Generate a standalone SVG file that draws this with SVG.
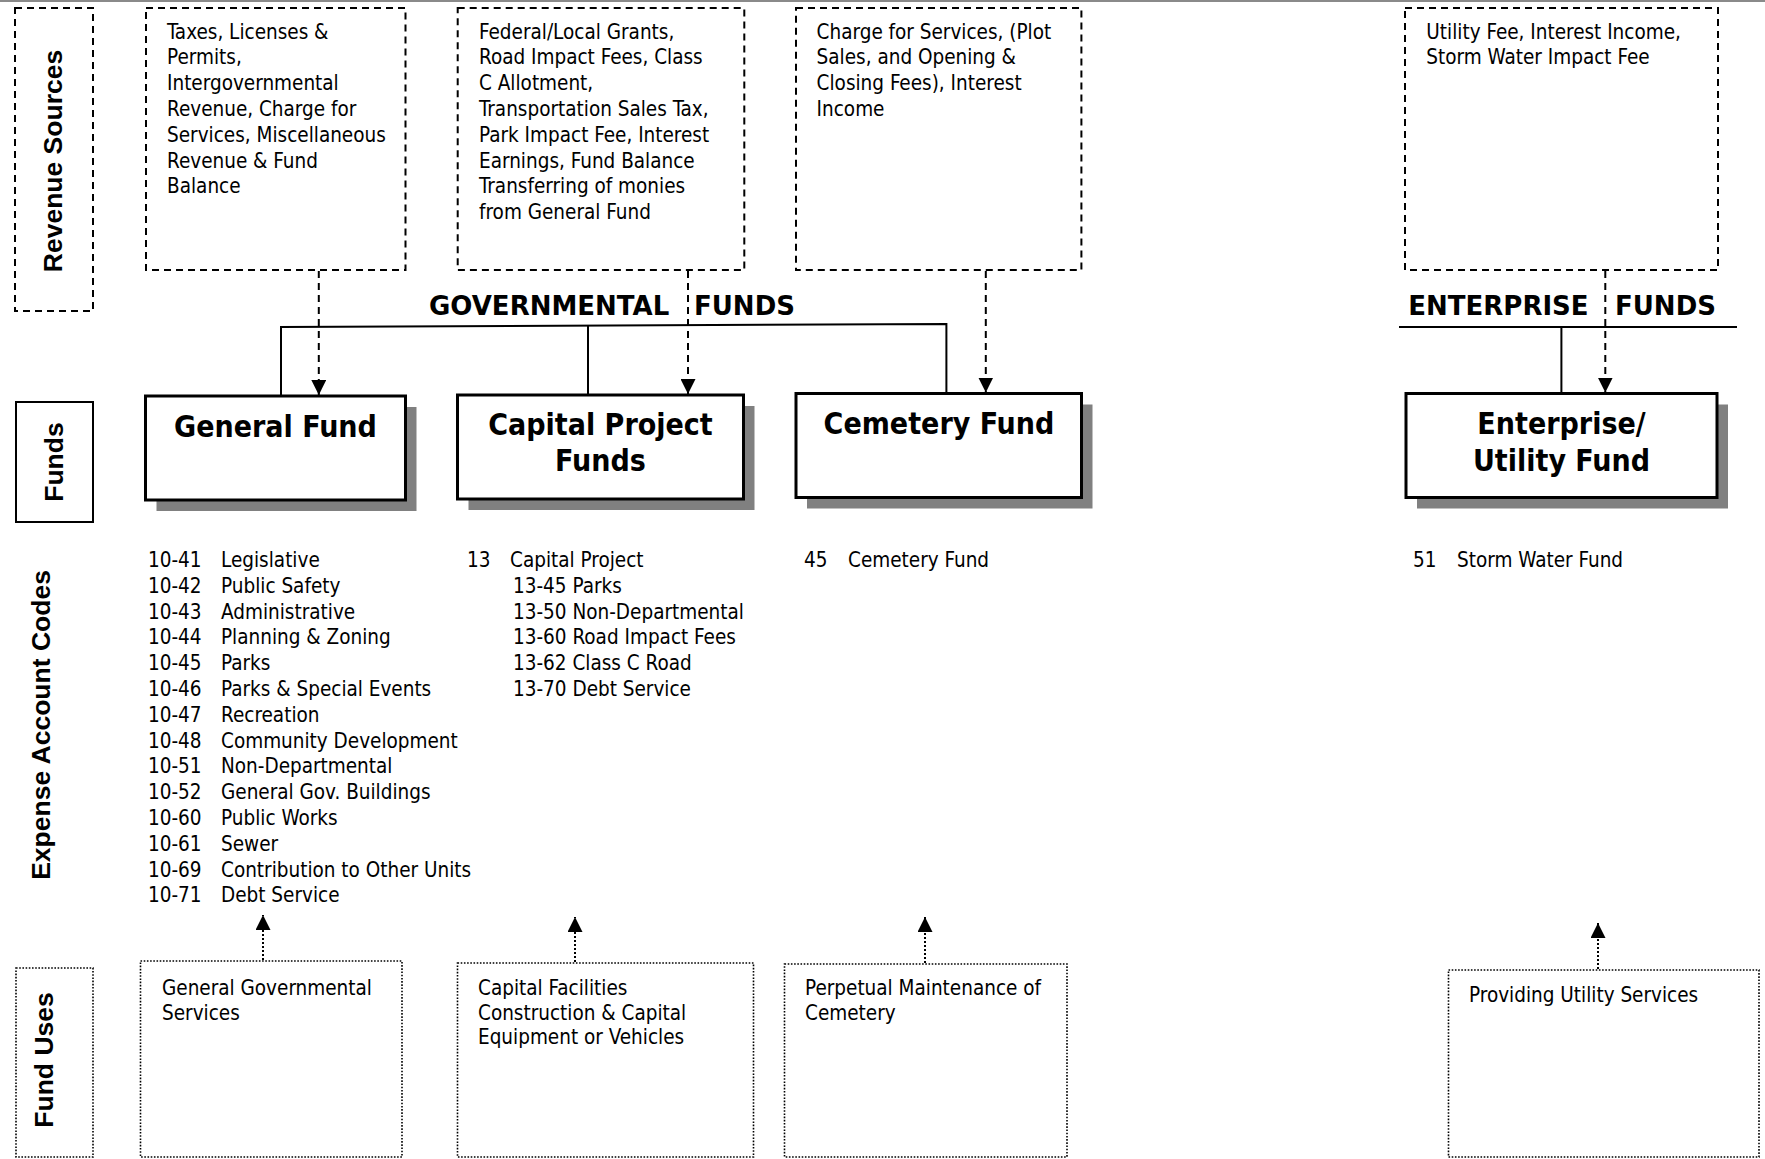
<svg xmlns="http://www.w3.org/2000/svg" width="1765" height="1159" viewBox="0 0 1765 1159">
<style>
.bg{fill:#fff}
.t{font-family:"DejaVu Sans Condensed","DejaVu Sans",sans-serif;font-size:20.5px;fill:#000}
.ft{font-family:"DejaVu Sans Condensed","DejaVu Sans",sans-serif;font-size:30px;font-weight:bold;fill:#000;text-anchor:middle}
.hd{font-family:"DejaVu Sans",sans-serif;font-size:26px;font-weight:bold;fill:#000}
.lab{font-family:"Liberation Sans",Arial,sans-serif;font-size:26.5px;font-weight:bold;fill:#000;text-anchor:middle}
.dash{fill:none;stroke:#000;stroke-width:2;stroke-dasharray:7 5}
.dot{fill:none;stroke:#000;stroke-width:1.6;stroke-dasharray:1.6 1.6}
.solid{fill:none;stroke:#000;stroke-width:2}
.box{fill:#fff;stroke:#000;stroke-width:3}
.shadow{fill:#808080}
.ln{fill:none;stroke:#000;stroke-width:2}
.dln{fill:none;stroke:#000;stroke-width:2;stroke-dasharray:7 5}
.dotln{fill:none;stroke:#000;stroke-width:2;stroke-dasharray:2 2}
</style>
<defs>
<marker id="ah" viewBox="0 0 10 10" refX="10" refY="5" markerWidth="7.5" markerHeight="7.5" markerUnits="strokeWidth" orient="auto">
<path d="M0,0 L10,5 L0,10 z" fill="#000"/>
</marker>
</defs>
<rect class="bg" x="0" y="0" width="1765" height="1159"/>
<line x1="0" y1="1" x2="1765" y2="1" stroke="#8a8a8a" stroke-width="2"/>

<!-- Row labels -->
<g id="label-revenue-sources">
<rect class="dash" x="15" y="8" width="78" height="303"/>
<text class="lab" transform="translate(62,161) rotate(-90)">Revenue Sources</text>
</g>
<g id="label-funds">
<rect class="solid" x="16" y="402" width="77" height="120"/>
<text class="lab" transform="translate(63,462) rotate(-90)">Funds</text>
</g>
<g id="label-expense-account-codes">
<text class="lab" transform="translate(50,725) rotate(-90)">Expense Account Codes</text>
</g>
<g id="label-fund-uses">
<rect class="dot" x="16" y="968" width="77" height="189"/>
<text class="lab" transform="translate(53,1060) rotate(-90)">Fund Uses</text>
</g>

<!-- Revenue sources -->
<g id="rev-general">
<rect class="dash" x="146" y="8" width="259.5" height="262"/>
<text class="t"><tspan x="167" y="38.5">Taxes, Licenses &amp;</tspan><tspan x="167" y="64.3">Permits,</tspan><tspan x="167" y="90.1">Intergovernmental</tspan><tspan x="167" y="115.9">Revenue, Charge for</tspan><tspan x="167" y="141.7">Services, Miscellaneous</tspan><tspan x="167" y="167.5">Revenue &amp; Fund</tspan><tspan x="167" y="193.3">Balance</tspan></text>
</g>
<g id="rev-capital">
<rect class="dash" x="457.7" y="8" width="286.6" height="262"/>
<text class="t"><tspan x="479" y="38.5">Federal/Local Grants,</tspan><tspan x="479" y="64.3">Road Impact Fees, Class</tspan><tspan x="479" y="90.1">C Allotment,</tspan><tspan x="479" y="115.9">Transportation Sales Tax,</tspan><tspan x="479" y="141.7">Park Impact Fee, Interest</tspan><tspan x="479" y="167.5">Earnings, Fund Balance</tspan><tspan x="479" y="193.3">Transferring of monies</tspan><tspan x="479" y="219.1">from General Fund</tspan></text>
</g>
<g id="rev-cemetery">
<rect class="dash" x="796" y="8" width="285.4" height="262"/>
<text class="t"><tspan x="816.6" y="38.5">Charge for Services, (Plot</tspan><tspan x="816.6" y="64.3">Sales, and Opening &amp;</tspan><tspan x="816.6" y="90.1">Closing Fees), Interest</tspan><tspan x="816.6" y="115.9">Income</tspan></text>
</g>
<g id="rev-enterprise">
<rect class="dash" x="1405" y="8" width="313" height="262"/>
<text class="t"><tspan x="1426.3" y="38.5">Utility Fee, Interest Income,</tspan><tspan x="1426.3" y="64.3">Storm Water Impact Fee</tspan></text>
</g>

<!-- Group headers -->
<g id="header-governmental">
<text class="hd" x="429" y="315">GOVERNMENTAL</text>
<text class="hd" x="694" y="315">FUNDS</text>
</g>
<g id="header-enterprise">
<text class="hd" x="1408.3" y="315">ENTERPRISE</text>
<text class="hd" x="1615" y="315">FUNDS</text>
</g>

<!-- Fund boxes -->
<g id="fund-general">
<rect class="shadow" x="156.5" y="407" width="260" height="104"/>
<rect class="box" x="145.5" y="396" width="260" height="104"/>
<text class="ft" x="275.5" y="437">General Fund</text>
</g>
<g id="fund-capital">
<rect class="shadow" x="468.5" y="406" width="286" height="104"/>
<rect class="box" x="457.5" y="395" width="286" height="104"/>
<text class="ft" x="600.5" y="434.5">Capital Project</text>
<text class="ft" x="600.5" y="471">Funds</text>
</g>
<g id="fund-cemetery">
<rect class="shadow" x="807" y="404.5" width="285.5" height="104"/>
<rect class="box" x="796" y="393.5" width="285.5" height="104"/>
<text class="ft" x="939" y="433.5">Cemetery Fund</text>
</g>
<g id="fund-enterprise">
<rect class="shadow" x="1417" y="404.5" width="311" height="104"/>
<rect class="box" x="1406" y="393.5" width="311" height="104"/>
<text class="ft" x="1561.5" y="433.5">Enterprise/</text>
<text class="ft" x="1561.5" y="471">Utility Fund</text>
</g>

<!-- Expense account codes -->
<g id="codes-general">
<text class="t" x="148" y="567">10-41</text><text class="t" x="221" y="567">Legislative</text>
<text class="t" x="148" y="592.8">10-42</text><text class="t" x="221" y="592.8">Public Safety</text>
<text class="t" x="148" y="618.6">10-43</text><text class="t" x="221" y="618.6">Administrative</text>
<text class="t" x="148" y="644.4">10-44</text><text class="t" x="221" y="644.4">Planning &amp; Zoning</text>
<text class="t" x="148" y="670.2">10-45</text><text class="t" x="221" y="670.2">Parks</text>
<text class="t" x="148" y="696">10-46</text><text class="t" x="221" y="696">Parks &amp; Special Events</text>
<text class="t" x="148" y="721.8">10-47</text><text class="t" x="221" y="721.8">Recreation</text>
<text class="t" x="148" y="747.6">10-48</text><text class="t" x="221" y="747.6">Community Development</text>
<text class="t" x="148" y="773.4">10-51</text><text class="t" x="221" y="773.4">Non-Departmental</text>
<text class="t" x="148" y="799.2">10-52</text><text class="t" x="221" y="799.2">General Gov. Buildings</text>
<text class="t" x="148" y="825">10-60</text><text class="t" x="221" y="825">Public Works</text>
<text class="t" x="148" y="850.8">10-61</text><text class="t" x="221" y="850.8">Sewer</text>
<text class="t" x="148" y="876.6">10-69</text><text class="t" x="221" y="876.6">Contribution to Other Units</text>
<text class="t" x="148" y="902.4">10-71</text><text class="t" x="221" y="902.4">Debt Service</text>
</g>
<g id="codes-capital">
<text class="t" x="467" y="567">13</text><text class="t" x="510" y="567">Capital Project</text>
<text class="t" x="513" y="592.8">13-45 Parks</text>
<text class="t" x="513" y="618.6">13-50 Non-Departmental</text>
<text class="t" x="513" y="644.4">13-60 Road Impact Fees</text>
<text class="t" x="513" y="670.2">13-62 Class C Road</text>
<text class="t" x="513" y="696">13-70 Debt Service</text>
</g>
<g id="codes-cemetery">
<text class="t" x="804" y="567">45</text><text class="t" x="848" y="567">Cemetery Fund</text>
</g>
<g id="codes-enterprise">
<text class="t" x="1413" y="567">51</text><text class="t" x="1457" y="567">Storm Water Fund</text>
</g>

<!-- Fund uses -->
<g id="use-general">
<rect class="dot" x="140.5" y="961" width="261.5" height="196"/>
<text class="t"><tspan x="162" y="995">General Governmental</tspan><tspan x="162" y="1019.5">Services</tspan></text>
</g>
<g id="use-capital">
<rect class="dot" x="457.5" y="963" width="296" height="194"/>
<text class="t"><tspan x="478" y="995">Capital Facilities</tspan><tspan x="478" y="1019.5">Construction &amp; Capital</tspan><tspan x="478" y="1044">Equipment or Vehicles</tspan></text>
</g>
<g id="use-cemetery">
<rect class="dot" x="784.5" y="964" width="282.5" height="193"/>
<text class="t"><tspan x="805" y="995">Perpetual Maintenance of</tspan><tspan x="805" y="1020">Cemetery</tspan></text>
</g>
<g id="use-enterprise">
<rect class="dot" x="1448.5" y="970" width="310.5" height="187"/>
<text class="t"><tspan x="1469" y="1002">Providing Utility Services</tspan></text>
</g>

<!-- Connectors -->
<g id="connectors">
<polyline class="ln" points="281,396 281,327 946.4,324 946.4,393.5"/>
<line class="ln" x1="588" y1="326" x2="588" y2="395"/>
<line class="ln" x1="1399" y1="327" x2="1737" y2="327"/>
<line class="ln" x1="1561.4" y1="327" x2="1561.4" y2="393.5"/>
<line class="dln" x1="318.8" y1="271" x2="318.8" y2="395" marker-end="url(#ah)"/>
<line class="dln" x1="688" y1="271" x2="688" y2="394" marker-end="url(#ah)"/>
<line class="dln" x1="985.8" y1="271" x2="985.8" y2="392.5" marker-end="url(#ah)"/>
<line class="dln" x1="1605.3" y1="271" x2="1605.3" y2="392.5" marker-end="url(#ah)"/>
<line class="dotln" x1="263" y1="960" x2="263" y2="915" marker-end="url(#ah)"/>
<line class="dotln" x1="575" y1="962" x2="575" y2="917" marker-end="url(#ah)"/>
<line class="dotln" x1="925" y1="963" x2="925" y2="917" marker-end="url(#ah)"/>
<line class="dotln" x1="1598" y1="969" x2="1598" y2="923" marker-end="url(#ah)"/>
</g>
</svg>
